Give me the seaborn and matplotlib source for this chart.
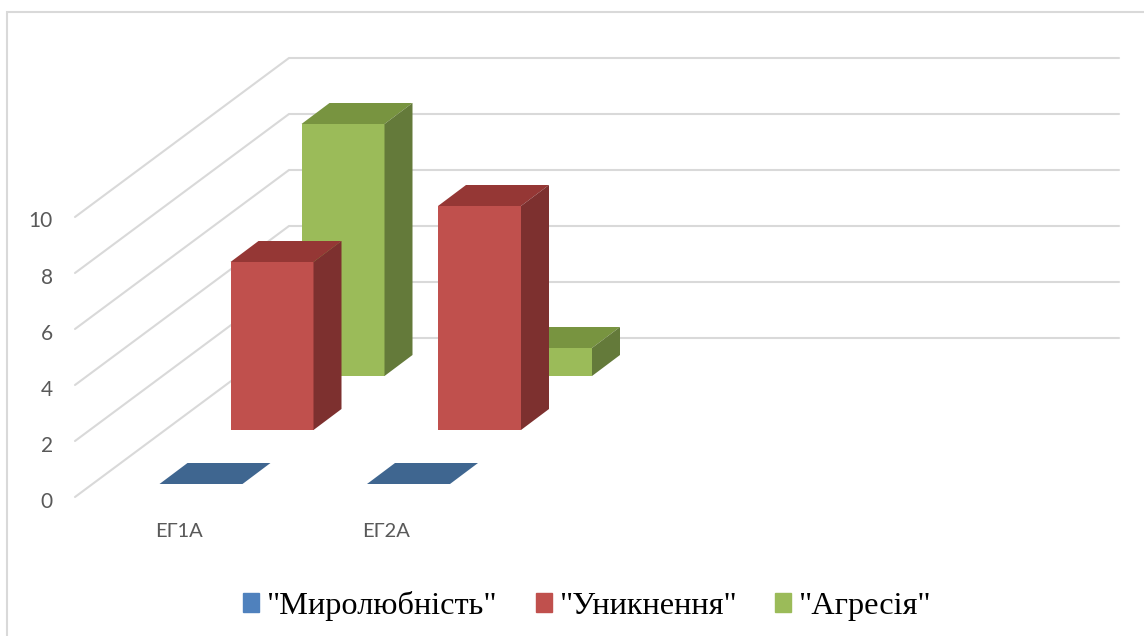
import matplotlib
matplotlib.use("Agg")
import matplotlib.pyplot as plt
from matplotlib.patches import Rectangle, Patch
from matplotlib.transforms import ScaledTranslation
import seaborn as sns
import numpy as np

categories = ["ЕГ1А", "ЕГ2А"]
series_names = ['"Миролюбність"', '"Уникнення"', '"Агресія"']
peace = [0, 0]
avoid = [6, 8]
aggr = [9, 1]
yticks = [0, 2, 4, 6, 8, 10]

W, H = 1144, 636
PXX, PXY = 207.5, 28.0      # pixels per category, per value unit
X0 = 201.5                  # pixel of first category, front row
AX_L, AX_R, AX_B, AX_T = 75, 1119, 497, 58

sns.set_theme(style="white")
plt.rcParams["font.family"] = ["Lato", "DejaVu Sans"]
fig = plt.figure(figsize=(W / 100, H / 100), dpi=100)
ax = fig.add_axes([AX_L / W, 1 - AX_B / H, (AX_R - AX_L) / W, (AX_B - AX_T) / H])
ax.patch.set_alpha(0)

def ux(px):
    return px / PXX

def uy(px):
    return px / PXY

rows = [
    (peace, 0, "#4f81bd", "#3f6690", "#35587f"),
    (avoid, 1, "#c0504d", "#953735", "#7d302f"),
    (aggr, 2, "#9bbb59", "#789440", "#647a3a"),
]
width = 83 / PXX
dx, dy = ux(28), uy(21)
pos = np.arange(len(categories), dtype=float)

for vals, i, front, top, side in reversed(rows):
    xs = pos + ux(71) * i - ux(0.5)
    base = uy(13 + 54 * i)
    z = 5 - i
    sns.barplot(x=xs, y=vals, native_scale=True, width=width, color=front, saturation=1,
                errorbar=None, bottom=base, zorder=z + 0.1, linewidth=0, ax=ax)
    for x, v in zip(xs, vals):
        l, r, b, t = x - width / 2, x + width / 2, base, base + v
        ax.fill([l, r, r + dx, l + dx], [t, t, t + dy, t + dy], color=top, lw=0, zorder=z + 0.2)
        if v > 0:
            ax.fill([r, r, r + dx, r + dx], [b, t, t + dy, b + dy], color=side, lw=0, zorder=z + 0.2)

xmin = (AX_L - X0) / PXX
xmax = (AX_R - X0) / PXX
ax.set_xlim(xmin, xmax)
ax.set_ylim(0, (AX_B - AX_T) / PXY)

for v in yticks:
    ax.plot([xmin, xmin + ux(214), xmax], [v, v + uy(159), v + uy(159)],
            color="#d9d9d9", lw=1.5, zorder=0.5, clip_on=False, solid_joinstyle="miter")

sns.despine(ax=ax, left=True, bottom=True)
ax.set_yticks(yticks)
ax.set_yticklabels([str(v) for v in yticks], fontsize=15, color="#595959")
ax.set_xticks(pos - ux(22.5))
ax.set_xticklabels(categories, fontsize=14.5, color="#595959")
ax.tick_params(axis="y", length=0, pad=16)
ax.tick_params(axis="x", length=0, pad=19)
ax.set_xlabel("")
ax.set_ylabel("")
shift = ScaledTranslation(0, -2.5 / 100, fig.dpi_scale_trans)
for lab in ax.get_yticklabels():
    lab.set_transform(lab.get_transform() + shift)

fig.add_artist(Rectangle((7 / W, -0.05), 1.2, 1.05 - 12 / H, transform=fig.transFigure,
                         fill=False, edgecolor="#d9d9d9", lw=1.5, zorder=-1))

handles = [Patch(color=r[2]) for r in rows]
fig.legend(handles, series_names, loc="center", bbox_to_anchor=(587.5 / W, 1 - 606 / H), ncols=3,
           frameon=False, prop={"family": ["Liberation Serif"], "size": 23.3},
           handlelength=0.49, handleheight=0.49, handletextpad=0.25, columnspacing=1.17,
           labelcolor="black", borderpad=0, borderaxespad=0)

fig.savefig("out.png", dpi=100)
